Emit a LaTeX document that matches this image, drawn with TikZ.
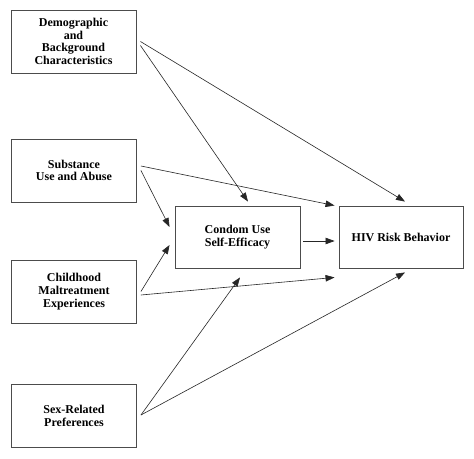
\documentclass[tikz,border=0pt]{standalone}
\usepackage{fontspec}
\newfontfamily\boxfont{Liberation Serif}
\usetikzlibrary{arrows.meta}
\begin{document}
\begin{tikzpicture}[x=1pt,y=-1pt,
  box/.style={draw=black!70, line width=0.9pt, minimum width=125pt, minimum height=63pt,
    inner sep=0pt, align=center, font=\boxfont\bfseries\fontsize{12}{12.7}\selectfont},
  arr/.style={draw=black!85, line width=0.6pt, -{Triangle[length=9pt,width=6.5pt]}}]
\useasboundingbox (0,0) rectangle (474,458);
\fill[white] (0,0) rectangle (474,458);
\node[box] (demo) at (73.5,41.5) {Demographic\\and\\Background\\Characteristics};
\node[box] (sub) at (74,170.5) {Substance\\Use and Abuse};
\node[box] (child) at (74,291.5) {Childhood\\Maltreatment\\Experiences};
\node[box] (sex) at (74,416) {Sex-Related\\Preferences};
\node[box, minimum height=62pt] (cue) at (237.5,237) {Condom Use\\Self-Efficacy};
\node[box, minimum width=124pt, minimum height=62pt] (hiv) at (401,237) {HIV Risk Behavior};
\draw[arr] ([xshift=4pt]demo.east) -- ([xshift=4pt,yshift=4pt]hiv.north);
\draw[arr] ([xshift=4pt,yshift=-4pt]demo.east) -- ([xshift=10.5pt,yshift=4pt]cue.north);
\draw[arr] ([xshift=4pt,yshift=4.5pt]sub.east) -- ([xshift=-4pt]hiv.north west);
\draw[arr] ([xshift=4pt]sub.east) -- ([xshift=-5pt,yshift=10pt]cue.west);
\draw[arr] ([xshift=4pt]child.east) -- ([xshift=-5pt,yshift=-8pt]cue.west);
\draw[arr] ([xshift=4pt,yshift=-3.5pt]child.east) -- ([xshift=-4pt,yshift=-9pt]hiv.south west);
\draw[arr] ([xshift=4pt,yshift=1pt]sex.east) -- ([xshift=2.5pt,yshift=-9pt]cue.south);
\draw[arr] ([xshift=4pt,yshift=1pt]sex.east) -- ([xshift=4pt,yshift=-4pt]hiv.south);
\draw[arr] ([xshift=3pt,yshift=-4pt]cue.east) -- ([xshift=-4pt,yshift=-4pt]hiv.west);
\end{tikzpicture}
\end{document}
